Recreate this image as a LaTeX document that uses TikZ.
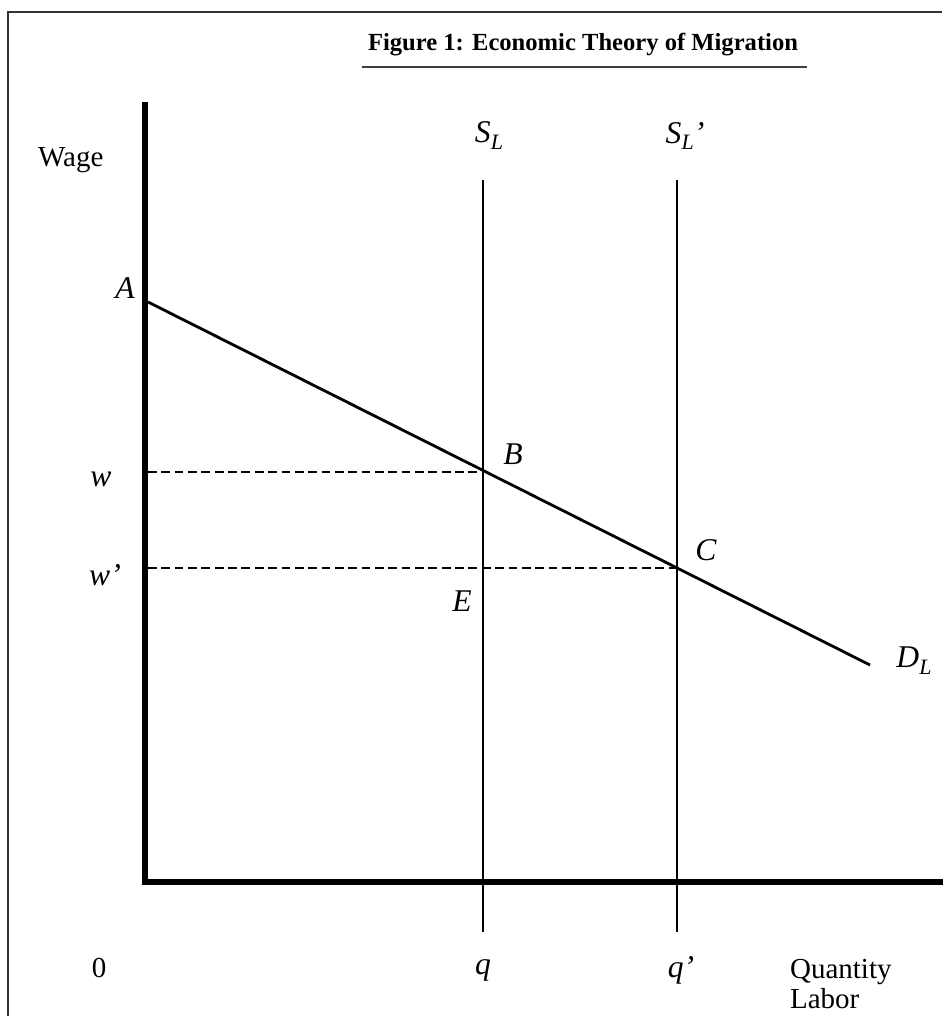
\documentclass[tikz,border=0pt]{standalone}
\usepackage{fontspec}
\setmainfont{Liberation Serif}
\usepackage{tikz}

\newcommand{\lowL}{\raisebox{-0.22em}{\fontsize{12.5}{14}\selectfont L}}

\begin{document}
\begin{tikzpicture}[
        x=0.02cm, y=-0.02cm,
        axis/.style={line width=3.4pt, line cap=rect},
        curve/.style={line width=1.6pt},
        guide/.style={line width=1.3pt, dash pattern=on 5pt off 2.6pt},
        frame/.style={line width=1.2pt, draw=black!80},
        mlbl/.style={font=\fontsize{18}{21}\selectfont\itshape, inner sep=1pt},
        tlbl/.style={font=\fontsize{16.5}{19}\selectfont, inner sep=1pt}
    ]
    \useasboundingbox (0,0) rectangle (942,1016);

    % Frame (top and left only)
    \coordinate (frameTL) at (8,12);
    \coordinate (frameTR) at (942,12);
    \coordinate (frameBL) at (8,1016);
    \draw[frame] (frameTR) -- (frameTL) -- (frameBL);

    % Title
    \node[font=\fontsize{14}{17}\selectfont\bfseries, inner sep=0pt] (title) at (583,45) {Figure 1: Economic Theory of Migration};
    \draw[line width=1.1pt, draw=black!75] ([yshift=-6pt, xshift=-3pt]title.south west) -- ([yshift=-6pt, xshift=5pt]title.south east);

    % ---- Axes ----
    \coordinate (origin) at (145,882);
    \coordinate (ytop) at (145,105);
    \coordinate (xend) at (942,882);
    \draw[axis] (ytop) -- (origin) -- (xend);

    % ---- Supply curves ----
    \coordinate (sTop) at (483,180);
    \coordinate (sBot) at (483,932);
    \coordinate (spTop) at (677,180);
    \coordinate (spBot) at (677,932);
    \draw[curve] (sTop) -- (sBot);
    \draw[curve] (spTop) -- (spBot);

    % ---- Demand curve ----
    \coordinate (dA) at (148,302);
    \coordinate (dEnd) at (870,665);
    \draw[curve] (dA) -- (dEnd);

    % ---- Wage guides ----
    \coordinate (wAxis) at (148,472);
    \coordinate (ptB) at (483,472);
    \coordinate (wpAxis) at (148,568);
    \coordinate (ptC) at (677,568);
    \draw[guide] (wAxis) -- (ptB);
    \draw[guide] (wpAxis) -- (ptC);

    % ---- Labels ----
    \node[tlbl, anchor=west] (wage) at (36,160) {Wage};
    \node[mlbl] (lblA) at (125,288) {A};
    \node[mlbl] (lblSL) at (489,136) {S\lowL};
    \node[mlbl] (lblSLp) at (685,136) {S\lowL’};
    \node[mlbl] (lblB) at (513,454) {B};
    \node[mlbl] (lblC) at (706,550) {C};
    \node[mlbl] (lblE) at (462,601) {E};
    \node[mlbl] (lblw) at (101,479) {w};
    \node[mlbl] (lblwp) at (105,575) {w’};
    \node[mlbl] (lblDL) at (914,661) {D\lowL};
    \node[tlbl] (lblzero) at (99,968) {0};
    \node[mlbl] (lblq) at (483,970) {q};
    \node[mlbl] (lblqp) at (681,970) {q’};
    \node[tlbl, anchor=west, align=left] (lblQL) at (788,984) {Quantity\\[-2pt]Labor};
\end{tikzpicture}
\end{document}
